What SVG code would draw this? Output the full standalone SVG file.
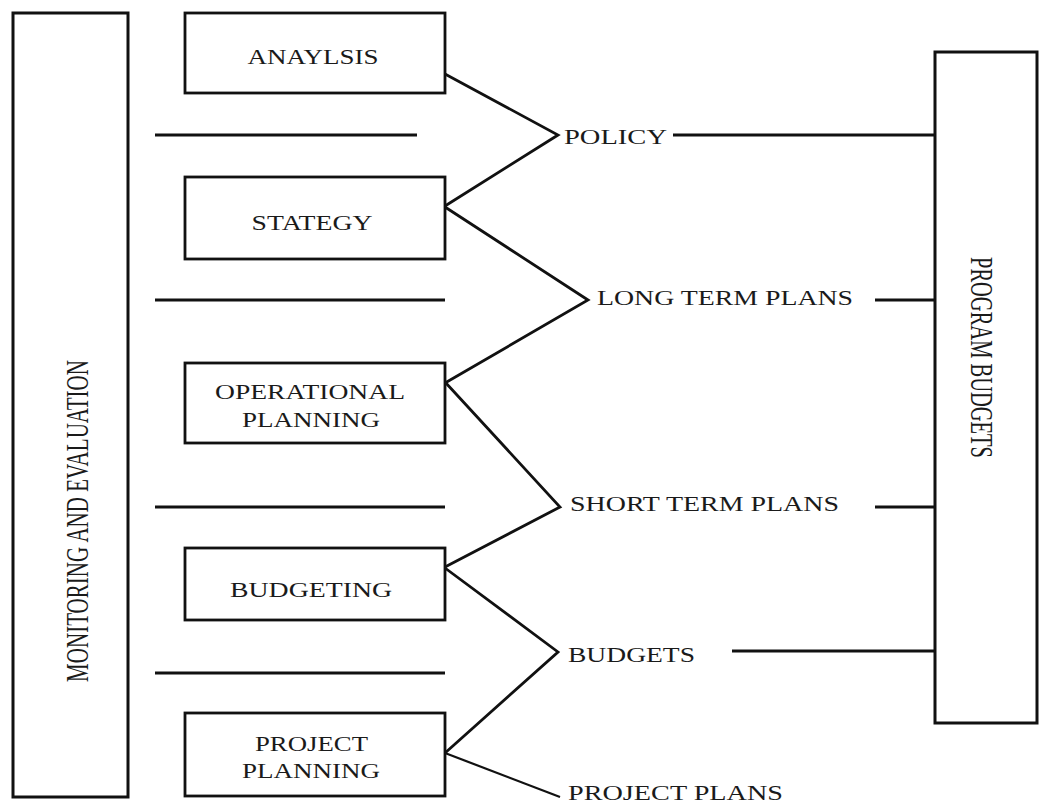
<svg xmlns="http://www.w3.org/2000/svg" width="1040" height="803" viewBox="0 0 1040 803">
<style>
.box{fill:#fff;stroke:#111;stroke-width:2.8}
.big{fill:#fff;stroke:#111;stroke-width:3}
.ln{fill:none;stroke:#111;stroke-width:2.8;stroke-linejoin:miter}
.thin{fill:none;stroke:#111;stroke-width:2.2}
text{font-family:"Liberation Serif","Times New Roman",serif;font-size:21.5px;fill:#1a1a1a}
.c{text-anchor:middle}
</style>
<rect width="1040" height="803" fill="#fff"/>
<g id="monitoring">
<rect class="big" x="13" y="13" width="115" height="784"/>
<text class="c" transform="translate(88,521) scale(1.45,1) rotate(-90)" textLength="322" lengthAdjust="spacingAndGlyphs">MONITORING AND EVALUATION</text>
</g>
<g id="program-budgets">
<rect class="big" x="935" y="52" width="102" height="671"/>
<text class="c" transform="translate(971,357.5) scale(1.5,1) rotate(90)" textLength="201" lengthAdjust="spacingAndGlyphs">PROGRAM BUDGETS</text>
</g>
<g id="analysis">
<rect class="box" x="185" y="13" width="260" height="80"/>
<text class="c" transform="translate(313,64) scale(1.27,1)" textLength="103.1" lengthAdjust="spacingAndGlyphs">ANAYLSIS</text>
</g>
<g id="strategy">
<rect class="box" x="185" y="177" width="260" height="82"/>
<text class="c" transform="translate(312,230) scale(1.27,1)" textLength="95.3" lengthAdjust="spacingAndGlyphs">STATEGY</text>
</g>
<g id="operational-planning">
<rect class="box" x="185" y="363" width="260" height="80"/>
<text class="c" transform="translate(310,399) scale(1.27,1)" textLength="149.6" lengthAdjust="spacingAndGlyphs">OPERATIONAL</text>
<text class="c" transform="translate(311,427) scale(1.27,1)" textLength="108.7" lengthAdjust="spacingAndGlyphs">PLANNING</text>
</g>
<g id="budgeting">
<rect class="box" x="185" y="548" width="260" height="72"/>
<text class="c" transform="translate(311,597) scale(1.27,1)" textLength="127.6" lengthAdjust="spacingAndGlyphs">BUDGETING</text>
</g>
<g id="project-planning">
<rect class="box" x="185" y="713" width="260" height="83"/>
<text class="c" transform="translate(311.5,751) scale(1.27,1)" textLength="89" lengthAdjust="spacingAndGlyphs">PROJECT</text>
<text class="c" transform="translate(311,778) scale(1.27,1)" textLength="108.7" lengthAdjust="spacingAndGlyphs">PLANNING</text>
</g>
<g id="policy"><text transform="translate(564,144) scale(1.27,1)" textLength="81.1" lengthAdjust="spacingAndGlyphs">POLICY</text></g>
<g id="long-term-plans"><text transform="translate(597,305) scale(1.27,1)" textLength="201.6" lengthAdjust="spacingAndGlyphs">LONG TERM PLANS</text></g>
<g id="short-term-plans"><text transform="translate(570,511) scale(1.27,1)" textLength="211.8" lengthAdjust="spacingAndGlyphs">SHORT TERM PLANS</text></g>
<g id="budgets"><text transform="translate(568,662) scale(1.27,1)" textLength="100" lengthAdjust="spacingAndGlyphs">BUDGETS</text></g>
<g id="project-plans"><text transform="translate(568,800) scale(1.27,1)" textLength="169.3" lengthAdjust="spacingAndGlyphs">PROJECT PLANS</text></g>
<g id="connectors">
<line class="ln" x1="155" y1="135" x2="417" y2="135"/>
<line class="ln" x1="155" y1="300" x2="445" y2="300"/>
<line class="ln" x1="155" y1="507" x2="445" y2="507"/>
<line class="ln" x1="155" y1="673" x2="445" y2="673"/>
<polyline class="ln" points="445,74 558,135 445,206"/>
<polyline class="ln" points="445,207 588,300 445,383"/>
<polyline class="ln" points="445,382 560,507 445,567"/>
<polyline class="ln" points="445,568 558,652 445,753"/>
<line class="thin" x1="445" y1="753" x2="560" y2="797"/>
<line class="ln" x1="673" y1="135" x2="935" y2="135"/>
<line class="ln" x1="875" y1="300" x2="935" y2="300"/>
<line class="ln" x1="875" y1="507" x2="935" y2="507"/>
<line class="ln" x1="732" y1="651" x2="935" y2="651"/>
</g>
</svg>
